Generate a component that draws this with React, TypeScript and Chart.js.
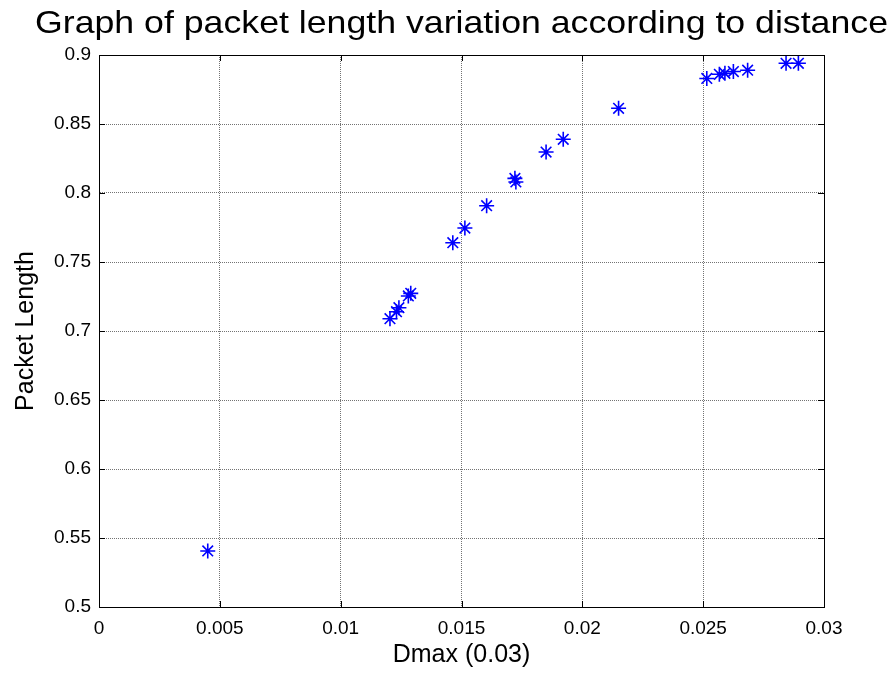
import React, { useEffect, useRef } from "react";
import { Chart, registerables } from "chart.js";

Chart.register(...registerables);

const titleText = "Graph of packet length variation according to distance";
const xAxisTitle = "Dmax (0.03)";
const yAxisTitle = "Packet Length";

const distance = [
  0.0045, 0.01204, 0.01231, 0.01241, 0.0128, 0.0129, 0.01464, 0.01514, 0.01604,
  0.01721, 0.01725, 0.0185, 0.01921, 0.0215, 0.02515, 0.02567, 0.0259, 0.02625,
  0.02684, 0.02843, 0.02894,
];
const packetLength = [
  0.5406, 0.7089, 0.714, 0.7169, 0.7254, 0.7273, 0.764, 0.7746, 0.7908, 0.8106,
  0.808, 0.8297, 0.8389, 0.8614, 0.883, 0.886, 0.8867, 0.888, 0.889, 0.894, 0.894,
];

const xTickValues = [0, 0.005, 0.01, 0.015, 0.02, 0.025, 0.03];
const xTickLabels = ["0", "0.005", "0.01", "0.015", "0.02", "0.025", "0.03"];
const yTickValues = [0.5, 0.55, 0.6, 0.65, 0.7, 0.75, 0.8, 0.85, 0.9];
const yTickLabels = ["0.5", "0.55", "0.6", "0.65", "0.7", "0.75", "0.8", "0.85", "0.9"];

const FONT = "'Liberation Sans', Arial, sans-serif";

function labelFor(values: number[], labels: string[], v: number): string {
  for (let i = 0; i < values.length; i++) {
    if (Math.abs(values[i] - v) < 1e-9) return labels[i];
  }
  return "";
}

const titlePlugin = {
  id: "stretchedTitle",
  afterDraw(chart: any) {
    const { ctx, chartArea } = chart;
    const cx = (chartArea.left + chartArea.right) / 2;
    ctx.save();
    ctx.font = `normal 32px ${FONT}`;
    ctx.fillStyle = "#000";
    ctx.textAlign = "center";
    ctx.textBaseline = "alphabetic";
    const w = ctx.measureText(titleText).width;
    const sx = 853 / w;
    ctx.translate(cx, 32.5);
    ctx.scale(sx, 1);
    ctx.fillText(titleText, 0, 0);
    ctx.restore();
  },
};

const boxPlugin = {
  id: "matlabBox",
  afterDraw(chart: any) {
    const { ctx, chartArea } = chart;
    const { left, right, top, bottom } = chartArea;
    const xs = chart.scales.x;
    const ys = chart.scales.y;
    const len = 6;
    ctx.save();
    ctx.strokeStyle = "#000";
    ctx.lineWidth = 1;
    ctx.beginPath();
    ctx.rect(Math.round(left) + 0.5, Math.round(top) + 0.5, Math.round(right - left), Math.round(bottom - top));
    ctx.stroke();
    ctx.beginPath();
    xs.ticks.forEach((t: any) => {
      const px = Math.round(xs.getPixelForValue(t.value)) + 0.5;
      ctx.moveTo(px, bottom);
      ctx.lineTo(px, bottom - len);
      ctx.moveTo(px, top);
      ctx.lineTo(px, top + len);
    });
    ys.ticks.forEach((t: any) => {
      const py = Math.round(ys.getPixelForValue(t.value)) + 0.5;
      ctx.moveTo(left, py);
      ctx.lineTo(left + len, py);
      ctx.moveTo(right, py);
      ctx.lineTo(right - len, py);
    });
    ctx.stroke();
    ctx.restore();
  },
};

export default function App() {
  const ref = useRef<HTMLCanvasElement | null>(null);

  useEffect(() => {
    if (!ref.current) return;
    const chart = new Chart(ref.current, {
      type: "scatter",
      data: {
        datasets: [
          {
            label: "Packet Length",
            data: distance.map((d, i) => ({ x: d, y: packetLength[i] })),
            pointStyle: "star",
            pointRadius: 7.5,
            pointHoverRadius: 7.5,
            borderColor: "#0000ff",
            backgroundColor: "#0000ff",
            pointBorderWidth: 1.6,
            showLine: false,
          },
        ],
      },
      options: {
        responsive: false,
        animation: false,
        layout: { padding: { left: 0, right: 72, top: 55, bottom: 0 } },
        plugins: {
          legend: { display: false },
          tooltip: { enabled: false },
          title: { display: false },
        },
        scales: {
          x: {
            type: "linear",
            min: 0,
            max: 0.03,
            afterFit: (s: any) => {
              s.height = 67;
            },
            afterBuildTicks: (s: any) => {
              s.ticks = xTickValues.map((v) => ({ value: v }));
            },
            ticks: {
              color: "#000",
              padding: 10,
              maxRotation: 0,
              font: { family: FONT, size: 19 },
              callback: (v: any) => labelFor(xTickValues, xTickLabels, Number(v)),
            },
            grid: {
              color: "rgba(0,0,0,0.55)",
              drawTicks: false,
              lineWidth: 1,
            },
            border: { display: true, color: "#000", dash: [1, 1] },
            title: {
              display: true,
              text: xAxisTitle,
              color: "#000",
              font: { family: FONT, size: 25, lineHeight: 1.2 },
              padding: { top: 0, bottom: 3.5 },
            },
          },
          y: {
            type: "linear",
            min: 0.5,
            max: 0.9,
            afterFit: (s: any) => {
              s.width = 99;
            },
            afterBuildTicks: (s: any) => {
              s.ticks = yTickValues.map((v) => ({ value: v }));
            },
            ticks: {
              color: "#000",
              padding: 8,
              font: { family: FONT, size: 19 },
              callback: (v: any) => labelFor(yTickValues, yTickLabels, Number(v)),
            },
            grid: {
              color: "rgba(0,0,0,0.55)",
              drawTicks: false,
              lineWidth: 1,
            },
            border: { display: true, color: "#000", dash: [1, 1] },
            title: {
              display: true,
              text: yAxisTitle,
              color: "#000",
              font: { family: FONT, size: 25, lineHeight: 1.2 },
              padding: { top: 11, bottom: 0 },
            },
          },
        },
      },
      plugins: [boxPlugin, titlePlugin],
    });
    return () => chart.destroy();
  }, []);

  return (
    <div style={{ position: "fixed", left: 0, top: 0, width: 896, height: 674, background: "#fff" }}>
      <canvas ref={ref} width={896} height={674} />
    </div>
  );
}
